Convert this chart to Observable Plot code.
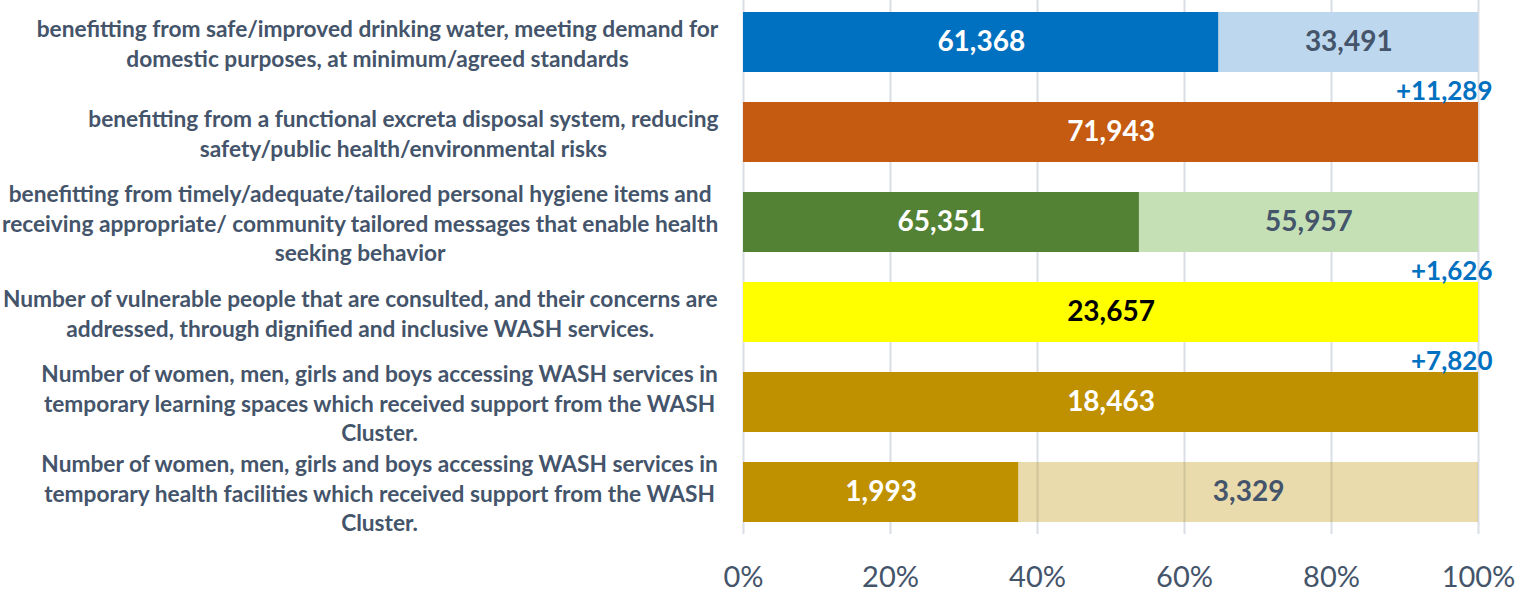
<!DOCTYPE html>
<html>
<head>
<meta charset="utf-8">
<script src="https://cdn.jsdelivr.net/npm/d3@7"></script>
<script src="https://cdn.jsdelivr.net/npm/@observablehq/plot@0.6"></script>
<style>
  html, body { margin: 0; padding: 0; background: #ffffff; }
  #chart { width: 1517px; height: 600px; }
</style>
</head>
<body>
<div id="chart"></div>
<script>
// ---- data ----
const categories = [
  "benefitting from safe/improved drinking water, meeting demand for\ndomestic purposes, at minimum/agreed standards",
  "benefitting from a functional excreta disposal system, reducing\nsafety/public health/environmental risks",
  "benefitting from timely/adequate/tailored personal hygiene items and\nreceiving appropriate/ community tailored messages that enable health\nseeking behavior",
  "Number of vulnerable people that are consulted, and their concerns are\naddressed, through dignified and inclusive WASH services.",
  "Number of women, men, girls and boys accessing WASH services in\ntemporary learning spaces which received support from the WASH\nCluster.",
  "Number of women, men, girls and boys accessing WASH services in\ntemporary health facilities which received support from the WASH\nCluster."
];
const reached   = [61368, 71943, 65351, 23657, 18463, 1993];
const remaining = [33491, 0, 55957, 0, 0, 3329];
const exceeded  = [0, 11289, 0, 1626, 7820, 0];
const xTicks = [0, 0.2, 0.4, 0.6, 0.8, 1];

// ---- styles ----
const reachedFill   = ["#0070c0", "#c55a11", "#548235", "#ffff00", "#bf9000", "#bf9000"];
const reachedText   = ["#ffffff", "#ffffff", "#ffffff", "#000000", "#ffffff", "#ffffff"];
const remainingFill = ["#bdd7ee", "#ffffff", "#c5e0b4", "#ffffff", "#ffffff", "#bf9000"];
const remainingOpacity = [1, 1, 1, 1, 1, 0.32];
const slate = "#44546a";
const font = "Lato, 'Open Sans', sans-serif";
const labelSize = 22.7;

// ---- table ----
const segments = [];
categories.forEach((c, i) => {
  segments.push({category: c, value: reached[i], fill: reachedFill[i], text: reachedText[i], op: 1});
  if (remaining[i] > 0) segments.push({category: c, value: remaining[i], fill: remainingFill[i], text: slate, op: remainingOpacity[i]});
});
const notes = categories.map((c, i) => ({category: c, value: exceeded[i]})).filter(d => d.value > 0);
const fmt = d3.format(",");

// measure label blocks so lines are centred in a right-aligned block
const ctx = document.createElement("canvas").getContext("2d");
ctx.font = `bold ${labelSize}px ${font}`;
const blockWidth = categories.map(c => d3.max(c.split("\n"), l => ctx.measureText(l).width));

const labelMarks = categories.map((c, i) =>
  Plot.text([c], {
    y: d => d, text: d => d, frameAnchor: "left", textAnchor: "middle",
    dx: -25 - blockWidth[i] / 2, lineHeight: 1.3,
    fill: slate, fontWeight: "bold", fontSize: labelSize
  })
);

const chart = Plot.plot({
  width: 1517,
  height: 600,
  marginLeft: 743,
  marginRight: 39,
  marginTop: 0,
  marginBottom: 66,
  style: {fontFamily: font, background: "#ffffff", overflow: "visible"},
  x: {domain: [0, 1], axis: null},
  y: {domain: categories, axis: null, paddingInner: 0.333, paddingOuter: 0.133},
  color: {type: "identity"},
  opacity: {type: "identity"},
  marks: [
    Plot.ruleX(xTicks, {stroke: "#d9dde6", strokeWidth: 2}),
    Plot.barX(segments, Plot.stackX({x: "value", y: "category", offset: "normalize", order: null, fill: "fill", fillOpacity: "op"})),
    Plot.text(segments, Plot.stackX({x: "value", y: "category", offset: "normalize", order: null,
      text: d => fmt(d.value), fill: "text", fontWeight: "bold", fontSize: 28})),
    Plot.text(notes, {y: "category", text: d => "+" + fmt(d.value), frameAnchor: "right", textAnchor: "end",
      dx: 14, dy: -41, fill: "#0070c0", fontWeight: "bold", fontSize: 26}),
    Plot.axisX({ticks: xTicks, tickFormat: d3.format(".0%"), tickSize: 0, tickPadding: 32, fontSize: 29, fill: slate, label: null}),
    ...labelMarks
  ]
});
document.getElementById("chart").appendChild(chart);
</script>
</body>
</html>
